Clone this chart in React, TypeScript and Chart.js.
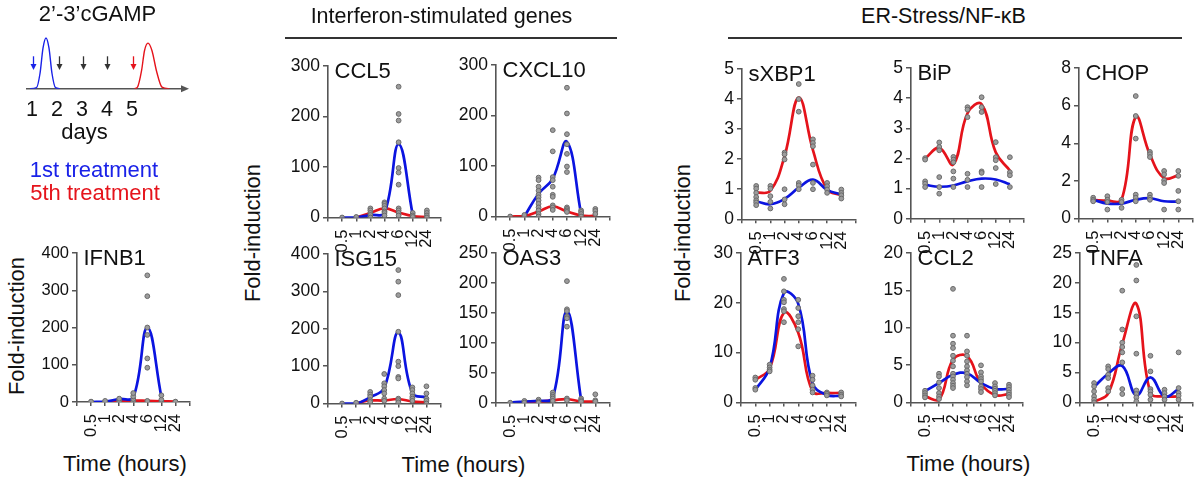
import React, { useEffect, useRef } from 'react';
import { Chart, registerables } from 'chart.js';

Chart.register(...registerables);

const FONT = '"Liberation Sans", Arial, Helvetica, sans-serif';
Chart.defaults.font.family = FONT;

// ---------------- data ----------------
const timeLabels = ['0.5', '1', '2', '4', '6', '12', '24'];

// IFNB1
const ifnb1Points = [[0, 1], [0, 3], [0, 4, 9], [2, 8, 15, 24], [340, 284, 200, 180, 117, 92, 3], [0, 6, 18], [0, 1]];
const ifnb1Blue = [0, 1, 8, 12, 200, 14, null];
const ifnb1Red = [null, 1, 3, 4, 3, 2, 1];

// CCL5
const ccl5Points = [[0], [0, 1], [18, 14, 9, 5, 0], [30, 27, 23, 18, 12, 9, 4], [259, 205, 192, 149, 98, 89, 65, 18, 14, 9, 4], [9, 4, 1], [14, 9, 4, 0]];
const ccl5Blue = [0, 0, 5, 9, 145, 5, null];
const ccl5Red = [null, 0, 9, 18, 10, 3, 1];

// CXCL10
const cxcl10Points = [[0], [0, 3], [77, 72, 59, 51, 43, 38, 32, 25, 18, 12, 5, 0], [171, 129, 78, 72, 59, 43, 39, 22, 18, 13], [255, 204, 163, 143, 124, 99, 88, 18, 15, 12, 9], [12, 9, 5, 0], [15, 11, 5]];
const cxcl10Blue = [null, 0, 45, 75, 148, 5, null];
const cxcl10Red = [0, 1, 10, 20, 10, 2, 1];

// ISG15
const isg15Points = [[0], [0, 2], [31, 24, 18, 9, 4], [79, 54, 46, 36, 27, 13, 7], [357, 326, 290, 192, 112, 100, 71, 67, 13, 9, 3], [43, 36, 27, 18, 13, 7], [46, 27, 13, 7, 0]];
const isg15Blue = [0, 0, 17, 42, 190, 28, 16];
const isg15Red = [null, 1, 8, 8, 12, 5, 3];

// OAS3
const oas3Points = [[0], [3, 0], [5, 2, 0], [17, 13, 10, 7, 3], [203, 156, 153, 144, 141, 127, 7, 4], [7, 4, 2], [14, 4, 2]];
const oas3Blue = [0, 2, 3, 8, 153, 5, null];
const oas3Red = [null, 1, 2, 4, 6, 2, 2];

// sXBP1
const sxbp1Points = [[1.11, 1.02, 0.88, 0.74, 0.63, 0.56, 0.47], [1.11, 1.02, 0.77, 0.58, 0.36], [2.22, 2.16, 1.99, 1.0, 0.66, 0.5], [4.5, 4.0, 3.58, 1.21, 1.13, 1.0], [2.66, 2.54, 2.43, 1.82, 1.21, 1.0], [1.21, 1.1, 0.99, 0.88], [0.99, 0.88, 0.8, 0.69]];
const sxbp1Blue = [0.6, 0.5, 0.68, 1.05, 1.32, 0.98, 0.82];
const sxbp1Red = [0.88, 0.95, 2.1, 4.05, 2.3, 1.0, 0.8];

// BiP
const bipPoints = [[2.01, 1.96, 1.24, 1.16, 1.05], [2.53, 2.38, 2.27, 1.38, 1.05, 0.83], [2.05, 1.96, 1.87, 1.57, 1.33, 1.05], [3.7, 3.62, 3.37, 1.49, 1.29, 1.05], [4.03, 3.7, 3.54, 1.57, 1.52, 1.05], [2.54, 2.04, 1.94, 1.68, 1.15], [2.04, 1.54, 1.44, 1.05]];
const bipBlue = [1.12, 1.06, 1.1, 1.24, 1.33, 1.3, 1.14];
const bipRed = [2.0, 2.35, 1.8, 3.5, 3.8, 2.2, 1.6];

// CHOP
const chopPoints = [[1.11, 1.0, 0.92], [1.19, 1.0, 0.88, 0.48], [1.0, 0.88, 0.57], [6.51, 5.45, 4.25, 1.27, 1.11, 0.92], [3.54, 3.42, 3.27, 1.27, 1.11, 1.0], [2.53, 2.35, 2.04, 1.89, 0.48], [2.53, 2.27, 1.47, 0.92, 0.48]];
const chopBlue = [1.0, 0.8, 0.8, 1.0, 1.08, 0.92, 0.9];
const chopRed = [1.0, 0.95, 1.0, 5.4, 3.4, 2.15, 2.3];

// ATF3
const atf3Points = [[5.0, 4.55, 2.9, 2.55], [7.57, 7.03, 6.56, 6.23], [24.8, 22.3, 20.6, 20.1, 18.75, 18.3, 16.1], [20.6, 18.95, 17.3, 16.1, 14.7, 11.25], [5.36, 4.55, 3.42, 2.55, 2.0], [2.0, 1.74, 1.4], [2.0, 1.54, 1.2]];
const atf3Blue = [2.5, 7.0, 22.0, 19.8, 3.8, 1.5, 1.3];
const atf3Red = [4.5, 6.8, 18.0, 14.0, 2.2, 1.9, 1.9];

// CCL2
const ccl2Points = [[1.56, 1.25, 0.94, 0.67], [3.84, 3.48, 2.68, 1.92, 1.25, 0.8, 0.45], [15.2, 8.93, 7.86, 7.28, 6.25, 5.58, 4.82, 3.84, 3.48, 3.04, 2.59, 2.23, 1.92], [8.93, 6.83, 6.25, 5.49, 4.82, 4.29, 3.84, 3.39, 2.81, 2.28], [4.96, 4.02, 3.48, 3.13, 2.81, 2.14, 1.79, 1.38], [2.59, 2.14, 1.83, 1.56, 1.25, 0.94], [2.37, 2.05, 1.7, 1.34, 1.03, 0.71]];
const ccl2Blue = [1.5, 2.6, 3.7, 3.9, 2.6, 1.8, 1.8];
const ccl2Red = [0.8, 0.35, 5.7, 6.2, 2.5, 1.0, 1.1];

// TNFA
const tnfaPoints = [[3.24, 2.68, 1.84, 1.0, 0.45, 0], [6.03, 5.58, 4.63, 4.07, 2.4, 1.84], [18.7, 12.2, 10.0, 9.26, 8.37, 6.7, 2.23, 1.4], [23.0, 20.4, 14.4, 8.15, 2.0, 1.4, 0.84, 0.17], [7.8, 5.19, 2.23, 1.84, 1.28, 0.45], [2.12, 1.56, 1.0, 0.45], [8.37, 2.4, 1.56, 1.12, 0.45]];
const tnfaBlue = [2.6, 4.8, 6.1, 1.2, 4.2, 1.0, 2.2];
const tnfaRed = [0.1, 1.5, 9.8, 16.5, 1.6, 1.0, 1.0];

// Schematic (treatment scheme)
const dayLabels = [1, 2, 3, 4, 5];
const firstPulseDays = [0.92, 1.18, 1.32, 1.44, 1.56, 1.68, 1.8, 1.94, 2.12];
const firstPulseLevel = [0, 0.02, 0.3, 0.8, 1.0, 0.8, 0.3, 0.02, 0];
const fifthPulseDays = [5.1, 5.22, 5.38, 5.5, 5.64, 5.8, 5.98, 6.2, 6.5];
const fifthPulseLevel = [0, 0.03, 0.35, 0.75, 0.9, 0.75, 0.35, 0.03, 0];
const doseDays = [1.04, 2.07, 3.04, 4.0, 5.04];
const doseKinds = ['first', 'repeat', 'repeat', 'repeat', 'fifth'];
const doseArrowTop = 0.64;
const doseArrowBottom = 0.37;

// ---------------- styles ----------------
const BLUE = '#0b14e0';
const RED = '#e5131b';
const AXIS = '#555555';
const TEXT = '#111111';
const POINT_FILL = '#9c9c9c';
const POINT_EDGE = '#6a6a6a';
const doseColor: Record<string, string> = { first: '#1a22e8', repeat: '#333333', fifth: '#e5131b' };

type PanelDef = {
  title: string; ax: number; top: number; w: number; h: number; tick: number;
  yMax: number; yStep: number; pts: number[][]; blue: (number | null)[]; red: (number | null)[];
};

const panels: PanelDef[] = [
  { title: 'IFNB1', ax: 77, top: 253, w: 112.5, h: 149, tick: 16.5, yMax: 400, yStep: 100, pts: ifnb1Points, blue: ifnb1Blue, red: ifnb1Red },
  { title: 'CCL5', ax: 328.3, top: 65.5, w: 113, h: 151.5, tick: 17.5, yMax: 300, yStep: 100, pts: ccl5Points, blue: ccl5Blue, red: ccl5Red },
  { title: 'CXCL10', ax: 496, top: 64.5, w: 113.5, h: 151.5, tick: 17.5, yMax: 300, yStep: 100, pts: cxcl10Points, blue: cxcl10Blue, red: cxcl10Red },
  { title: 'ISG15', ax: 328, top: 253.5, w: 112.5, h: 149.5, tick: 17.5, yMax: 400, yStep: 100, pts: isg15Points, blue: isg15Blue, red: isg15Red },
  { title: 'OAS3', ax: 496, top: 253, w: 113.5, h: 149.7, tick: 17.5, yMax: 250, yStep: 50, pts: oas3Points, blue: oas3Blue, red: oas3Red },
  { title: 'sXBP1', ax: 741.5, top: 68.7, w: 113.5, h: 150.3, tick: 17.5, yMax: 5, yStep: 1, pts: sxbp1Points, blue: sxbp1Blue, red: sxbp1Red },
  { title: 'BiP', ax: 910.5, top: 68.3, w: 113, h: 150.7, tick: 17.5, yMax: 5, yStep: 1, pts: bipPoints, blue: bipBlue, red: bipRed },
  { title: 'CHOP', ax: 1079.3, top: 67.7, w: 113.5, h: 150.6, tick: 17.5, yMax: 8, yStep: 2, pts: chopPoints, blue: chopBlue, red: chopRed },
  { title: 'ATF3', ax: 740.5, top: 253.3, w: 114.5, h: 149.4, tick: 17.5, yMax: 30, yStep: 10, pts: atf3Points, blue: atf3Blue, red: atf3Red },
  { title: 'CCL2', ax: 911.3, top: 253.3, w: 112, h: 149.4, tick: 17.5, yMax: 20, yStep: 5, pts: ccl2Points, blue: ccl2Blue, red: ccl2Red },
  { title: 'TNFA', ax: 1080, top: 253.3, w: 112.7, h: 149.4, tick: 17.5, yMax: 25, yStep: 5, pts: tnfaPoints, blue: tnfaBlue, red: tnfaRed },
];

// ---------------- plugins ----------------
const panelTitlePlugin = {
  id: 'panelTitle',
  afterDraw(chart: any, _args: any, opts: any) {
    const { ctx, chartArea } = chart;
    ctx.save();
    ctx.font = `22px ${FONT}`;
    ctx.fillStyle = TEXT;
    ctx.textAlign = 'left';
    ctx.textBaseline = 'alphabetic';
    ctx.fillText(opts.text, chartArea.left + 6.5, chartArea.top + 11.5);
    ctx.restore();
  },
};

const doseArrowsPlugin = {
  id: 'doseArrows',
  afterDatasetsDraw(chart: any) {
    const { ctx, scales, chartArea } = chart;
    const xs = scales.x;
    const ys = scales.y;
    ctx.save();
    doseDays.forEach((d, i) => {
      const px = Math.round(xs.getPixelForValue(d)) + 0.5;
      const y0 = ys.getPixelForValue(doseArrowTop);
      const y1 = ys.getPixelForValue(doseArrowBottom);
      const c = doseColor[doseKinds[i]];
      ctx.strokeStyle = c;
      ctx.fillStyle = c;
      ctx.lineWidth = 1.3;
      ctx.beginPath();
      ctx.moveTo(px, y0);
      ctx.lineTo(px, y1 - 4);
      ctx.stroke();
      ctx.beginPath();
      ctx.moveTo(px - 3, y1 - 6);
      ctx.lineTo(px + 3, y1 - 6);
      ctx.lineTo(px, y1);
      ctx.closePath();
      ctx.fill();
    });
    // arrowhead at the end of the time axis
    const ay = ys.getPixelForValue(0);
    const ax = chartArea.right;
    ctx.fillStyle = AXIS;
    ctx.beginPath();
    ctx.moveTo(ax + 7, ay);
    ctx.lineTo(ax - 1, ay - 3.5);
    ctx.lineTo(ax - 1, ay + 3.5);
    ctx.closePath();
    ctx.fill();
    ctx.restore();
  },
};

// ---------------- components ----------------
const YW = 52;
const PT = 16;
const PR = 36;
const XH = 52;

function Panel({ p }: { p: PanelDef }) {
  const ref = useRef<HTMLCanvasElement>(null);
  const cw = Math.round(YW + p.w + PR);
  const ch = Math.round(PT + p.h + XH);
  const padRight = cw - YW - p.w;
  const padTop = PT;
  const xHeight = ch - PT - p.h;

  useEffect(() => {
    const scatter = p.pts.flatMap((arr, i) => arr.map((v) => ({ x: i, y: v })));
    const toLine = (arr: (number | null)[]) => arr.map((v, i) => ({ x: i, y: v }));
    const lineDs = (arr: (number | null)[], color: string) => ({
      data: toLine(arr),
      showLine: true,
      borderColor: color,
      backgroundColor: color,
      borderWidth: 2.7,
      pointRadius: 0,
      tension: 0.42,
      spanGaps: false,
      fill: false,
    });
    const chart = new Chart(ref.current as HTMLCanvasElement, {
      type: 'scatter',
      data: {
        datasets: [
          {
            data: scatter,
            showLine: false,
            pointRadius: 2.4,
            pointBackgroundColor: POINT_FILL,
            pointBorderColor: POINT_EDGE,
            pointBorderWidth: 1,
          },
          lineDs(p.blue, BLUE),
          lineDs(p.red, RED),
        ],
      },
      options: {
        animation: false,
        responsive: false,
        events: [],
        layout: { padding: { top: padTop, right: padRight, left: 0, bottom: 0 } },
        plugins: {
          legend: { display: false },
          tooltip: { enabled: false },
          panelTitle: { text: p.title },
        },
        scales: {
          x: {
            type: 'linear',
            min: -1,
            max: 7,
            afterFit: (s: any) => { s.height = xHeight; },
            ticks: {
              stepSize: 1,
              autoSkip: false,
              minRotation: 90,
              maxRotation: 90,
              padding: 8,
              color: TEXT,
              font: { family: FONT, size: 16.5 },
              callback: (v: any) => timeLabels[Number(v)] ?? '',
            },
            grid: { drawOnChartArea: false, drawTicks: true, tickLength: 4, color: AXIS, lineWidth: 1.5 },
            border: { color: AXIS, width: 1.6 },
          },
          y: {
            min: 0,
            max: p.yMax,
            afterFit: (s: any) => { s.width = YW; },
            ticks: {
              stepSize: p.yStep,
              padding: 3,
              color: TEXT,
              font: { family: FONT, size: p.tick },
            },
            grid: { drawOnChartArea: false, drawTicks: true, tickLength: 5, color: AXIS, lineWidth: 1.5 },
            border: { color: AXIS, width: 1.6 },
          },
        },
      },
      plugins: [panelTitlePlugin],
    } as any);
    return () => chart.destroy();
  }, []);

  return (
    <canvas
      ref={ref}
      width={cw}
      height={ch}
      style={{ position: 'absolute', left: p.ax - YW, top: p.top - PT, width: cw, height: ch }}
    />
  );
}

function Schematic() {
  const ref = useRef<HTMLCanvasElement>(null);
  const cw = 200;
  const ch = 150;
  useEffect(() => {
    const toPts = (xs: number[], ys: number[]) => xs.map((x, i) => ({ x, y: ys[i] }));
    const pulse = (xs: number[], ys: number[], color: string) => ({
      data: toPts(xs, ys),
      showLine: true,
      borderColor: color,
      borderWidth: 1.4,
      pointRadius: 0,
      cubicInterpolationMode: 'monotone',
      fill: false,
    });
    const chart = new Chart(ref.current as HTMLCanvasElement, {
      type: 'scatter',
      data: {
        datasets: [
          pulse(firstPulseDays, firstPulseLevel, doseColor.first),
          pulse(fifthPulseDays, fifthPulseLevel, doseColor.fifth),
        ],
      },
      options: {
        animation: false,
        responsive: false,
        events: [],
        layout: { padding: { top: 33, right: 18, left: 27, bottom: 0 } },
        plugins: { legend: { display: false }, tooltip: { enabled: false } },
        scales: {
          x: {
            type: 'linear',
            min: 0.8,
            max: 7.0,
            afterFit: (s: any) => { s.height = 61.3; },
            afterBuildTicks: (s: any) => { s.ticks = dayLabels.map((v) => ({ value: v })); },
            ticks: {
              autoSkip: false,
              maxRotation: 0,
              padding: 8,
              color: TEXT,
              font: { family: FONT, size: 21.5 },
              callback: (v: any) => String(v),
            },
            grid: { drawOnChartArea: false, drawTicks: false },
            border: { color: AXIS, width: 1.6 },
          },
          y: { display: false, min: 0, max: 1.1 },
        },
      },
      plugins: [doseArrowsPlugin],
    } as any);
    return () => chart.destroy();
  }, []);
  return (
    <canvas ref={ref} width={cw} height={ch} style={{ position: 'absolute', left: 0, top: 0, width: cw, height: ch }} />
  );
}

function Label({ text, x, y, size = 21.5, color = TEXT, rotate = false }: { text: string; x: number; y: number; size?: number; color?: string; rotate?: boolean }) {
  return (
    <div
      style={{
        position: 'absolute',
        left: x,
        top: y,
        transform: `translate(-50%, -50%)${rotate ? ' rotate(-90deg)' : ''}`,
        fontFamily: FONT,
        fontSize: size,
        lineHeight: 1,
        color,
        whiteSpace: 'nowrap',
      }}
    >
      {text}
    </div>
  );
}

function Rule({ x1, x2, y }: { x1: number; x2: number; y: number }) {
  return <div style={{ position: 'absolute', left: x1, top: y - 1, width: x2 - x1, height: 2, background: '#333' }} />;
}

export default function App() {
  return (
    <div style={{ position: 'fixed', left: 0, top: 0, width: 1200, height: 484, background: '#fff', overflow: 'hidden' }}>
      <Schematic />
      <Label text="2’-3’cGAMP" x={97.5} y={14} size={22} />
      <Label text="days" x={84.5} y={132} size={22} />
      <Label text="1st treatment" x={94} y={169.5} size={22} color={doseColor.first} />
      <Label text="5th treatment" x={95} y={192.5} size={22} color={doseColor.fifth} />

      <Label text="Interferon-stimulated genes" x={441.5} y={16.5} size={21.5} />
      <Rule x1={285} x2={617} y={38} />
      <Label text="ER-Stress/NF-κB" x={943.5} y={16.5} size={21.5} />
      <Rule x1={728} x2={1182} y={38} />

      <Label text="Fold-induction" x={17} y={326} size={22} rotate />
      <Label text="Fold-induction" x={252.5} y={233} size={22} rotate />
      <Label text="Fold-induction" x={682.5} y={233} size={22} rotate />

      <Label text="Time (hours)" x={125} y={464} size={22} />
      <Label text="Time (hours)" x={463.5} y={465} size={22} />
      <Label text="Time (hours)" x={968.5} y={464} size={22} />

      {panels.map((p) => (
        <Panel key={p.title} p={p} />
      ))}
    </div>
  );
}
